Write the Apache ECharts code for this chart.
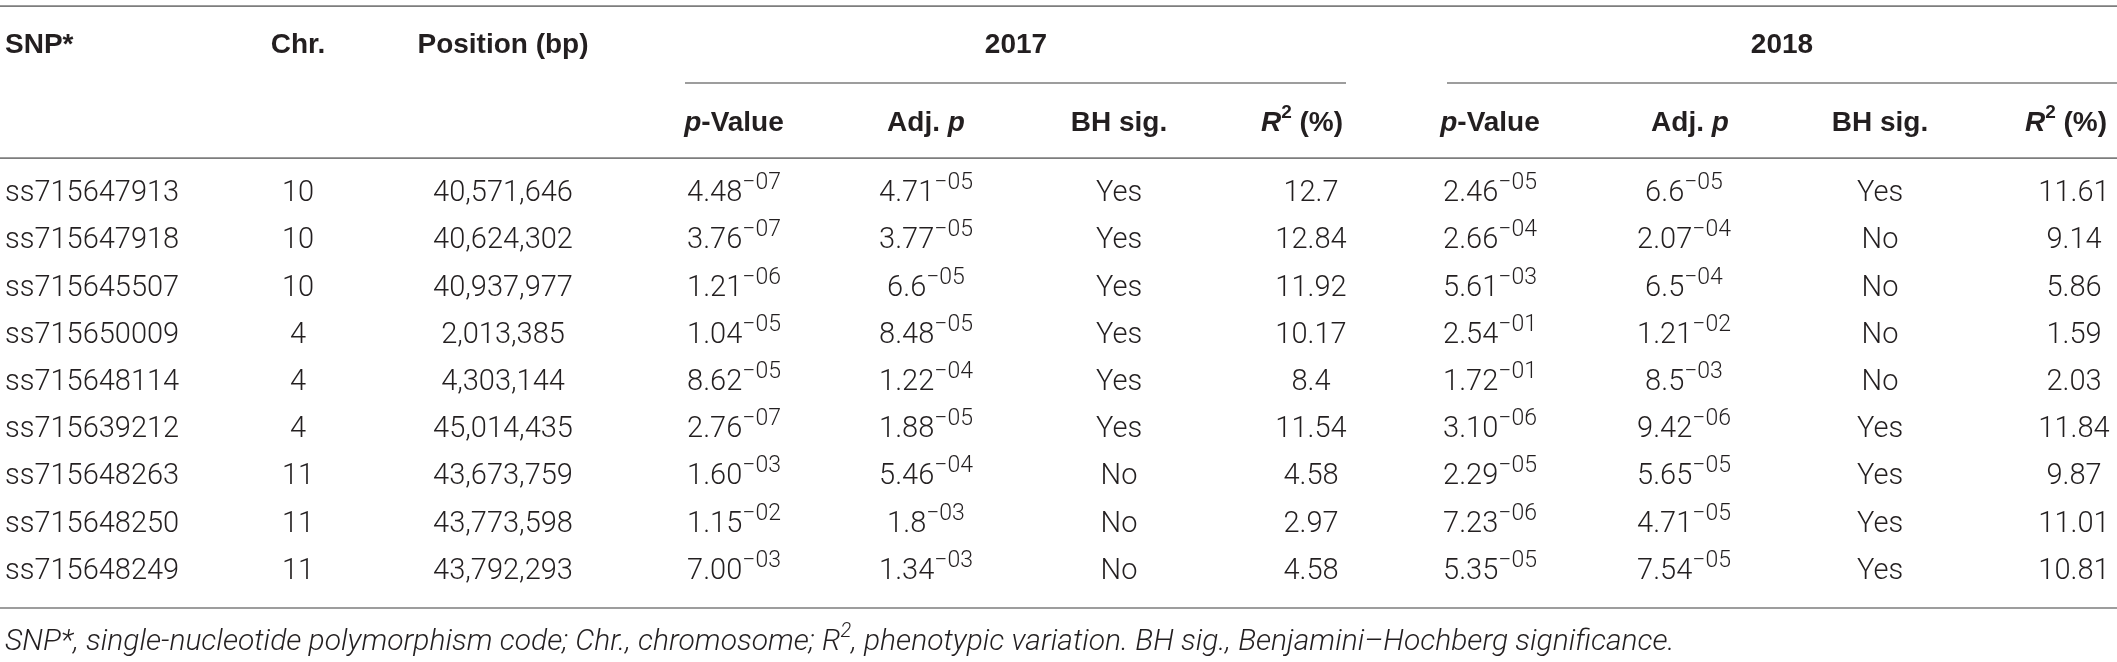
<!DOCTYPE html>
<html lang="en">
<head>
<meta charset="utf-8">
<title>SNP association table</title>
<script src="https://cdn.jsdelivr.net/npm/echarts@6/dist/echarts.min.js"></script>
<style>
  html, body { margin: 0; background: #fff; }
  #table { width: 2117px; height: 662px; }
</style>
</head>
<body>
<div id="table"></div>
<script>
// ---- table values ----
const snps = ['ss715647913', 'ss715647918', 'ss715645507', 'ss715650009', 'ss715648114',
              'ss715639212', 'ss715648263', 'ss715648250', 'ss715648249'];
const chromosomes = [10, 10, 10, 4, 4, 4, 11, 11, 11];
const positions = ['40,571,646', '40,624,302', '40,937,977', '2,013,385', '4,303,144',
                   '45,014,435', '43,673,759', '43,773,598', '43,792,293'];
const p2017 = ['4.48e-07', '3.76e-07', '1.21e-06', '1.04e-05', '8.62e-05', '2.76e-07', '1.60e-03', '1.15e-02', '7.00e-03'];
const adj2017 = ['4.71e-05', '3.77e-05', '6.6e-05', '8.48e-05', '1.22e-04', '1.88e-05', '5.46e-04', '1.8e-03', '1.34e-03'];
const bh2017 = ['Yes', 'Yes', 'Yes', 'Yes', 'Yes', 'Yes', 'No', 'No', 'No'];
const r2017 = [12.7, 12.84, 11.92, 10.17, 8.4, 11.54, 4.58, 2.97, 4.58];
const p2018 = ['2.46e-05', '2.66e-04', '5.61e-03', '2.54e-01', '1.72e-01', '3.10e-06', '2.29e-05', '7.23e-06', '5.35e-05'];
const adj2018 = ['6.6e-05', '2.07e-04', '6.5e-04', '1.21e-02', '8.5e-03', '9.42e-06', '5.65e-05', '4.71e-05', '7.54e-05'];
const bh2018 = ['Yes', 'No', 'No', 'No', 'No', 'Yes', 'Yes', 'Yes', 'Yes'];
const r2018 = [11.61, 9.14, 5.86, 1.59, 2.03, 11.84, 9.87, 11.01, 10.81];

const headers = ['SNP*', 'Chr.', 'Position (bp)', 'p-Value', 'Adj. p', 'BH sig.', 'R2 (%)',
                 'p-Value', 'Adj. p', 'BH sig.', 'R2 (%)'];
const years = ['2017', '2018'];
const footnote = 'SNP*, single-nucleotide polymorphism code; Chr., chromosome; R2, phenotypic variation. BH sig., Benjamini–Hochberg significance.';

const columns = [snps, chromosomes, positions, p2017, adj2017, bh2017, r2017, p2018, adj2018, bh2018, r2018];
const expCols = [3, 4, 7, 8];

// ---- layout (x in px, y in row units) ----
const colX = [5, 298, 503, 734, 926, 1119, 1311, 1490, 1684, 1880, 2074];
const headX = [5, 298, 503, 734, 926, 1119, 1302, 1490, 1690, 1880, 2066];
const yearX = [1016, 1782];
const Y_GROUP = -3.15, Y_SUB = -1.5, Y_FOOT = 9.51;
// [x1, x2, y]
const rules = [[0, 2117, -3.98], [685, 1346, -2.35], [1447, 2117, -2.35], [0, 2117, -0.76], [0, 2117, 8.77]];

const INK = '#231f20';
const rich = {
  n: { fontFamily: 'Roboto', fontWeight: 300, fontSize: 29, lineHeight: 44 },
  s: { fontFamily: 'Roboto', fontWeight: 300, fontSize: 23, lineHeight: 23, verticalAlign: 'top' },
  b: { fontFamily: 'Liberation Sans', fontWeight: 'bold', fontSize: 28, lineHeight: 40 },
  bi: { fontFamily: 'Liberation Sans', fontWeight: 'bold', fontStyle: 'italic', fontSize: 28, lineHeight: 40 },
  bs: { fontFamily: 'Liberation Sans', fontWeight: 'bold', fontSize: 19, lineHeight: 19, verticalAlign: 'top' },
  fi: { fontFamily: 'Roboto', fontWeight: 300, fontStyle: 'italic', fontSize: 30, lineHeight: 42 },
  fs: { fontFamily: 'Roboto', fontWeight: 300, fontStyle: 'italic', fontSize: 20, lineHeight: 20, verticalAlign: 'top' }
};

function cellText(c, r) {
  const v = String(columns[c][r]);
  if (expCols.indexOf(c) >= 0) {
    const parts = v.split('e');
    return '{n|' + parts[0] + '}{s|' + parts[1].replace('-', '−') + '}';
  }
  return '{n|' + v + '}';
}

function headText(h) {
  if (h.indexOf('p-') === 0) return '{bi|p}{b|' + h.slice(1) + '}';
  if (h.slice(-2) === ' p') return '{b|' + h.slice(0, -1) + '}{bi|p}';
  if (h.indexOf('R2') === 0) return '{bi|R}{bs|2}{b|' + h.slice(2) + '}';
  return '{b|' + h + '}';
}

function footText(t) {
  return t.split('R2').map(function (s) { return '{fi|' + s + '}'; }).join('{fi|R}{fs|2}');
}

// ---- series data ----
const cellData = [];
for (let r = 0; r < snps.length; r++) {
  for (let c = 0; c < columns.length; c++) cellData.push([colX[c], r, c]);
}
const headData = headers.map(function (h, i) { return [headX[i], i < 3 ? Y_GROUP : Y_SUB, i]; });
const yearData = years.map(function (y, i) { return [yearX[i], Y_GROUP, i]; });

const chart = echarts.init(document.getElementById('table'));

function textItem(api, text, align) {
  const pt = api.coord([api.value(0), api.value(1)]);
  return {
    type: 'text', x: pt[0], y: pt[1],
    style: { text: text, rich: rich, fill: INK, align: align, verticalAlign: 'middle' }
  };
}

chart.setOption({
  animation: false,
  grid: { left: 0, right: 0, top: 0, bottom: 0 },
  xAxis: { type: 'value', min: 0, max: 2117, show: false },
  yAxis: { type: 'value', min: -4.11, max: 9.915, inverse: true, show: false },
  series: [
    {
      type: 'custom', data: rules, silent: true,
      renderItem: function (params, api) {
        const a = api.coord([api.value(0), api.value(2)]);
        const b = api.coord([api.value(1), api.value(2)]);
        return { type: 'line', shape: { x1: a[0], y1: a[1], x2: b[0], y2: b[1] },
                 style: { stroke: '#7d7d7d', lineWidth: 1.6 } };
      }
    },
    {
      type: 'custom', data: cellData, silent: true,
      renderItem: function (params, api) {
        const c = api.value(2), r = api.value(1);
        return textItem(api, cellText(c, r), c === 0 ? 'left' : 'center');
      }
    },
    {
      type: 'custom', data: headData, silent: true,
      renderItem: function (params, api) {
        const i = api.value(2);
        return textItem(api, headText(headers[i]), i === 0 ? 'left' : 'center');
      }
    },
    {
      type: 'custom', data: yearData, silent: true,
      renderItem: function (params, api) {
        return textItem(api, '{b|' + years[api.value(2)] + '}', 'center');
      }
    },
    {
      type: 'custom', data: [[5, Y_FOOT]], silent: true,
      renderItem: function (params, api) {
        return textItem(api, footText(footnote), 'left');
      }
    }
  ]
});

window.addEventListener('resize', function () { chart.resize(); });
</script>
</body>
</html>
